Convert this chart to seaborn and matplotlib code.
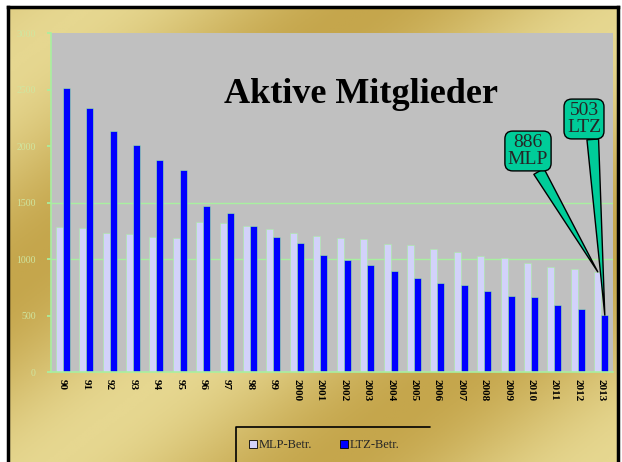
import numpy as np
import pandas as pd
import matplotlib
matplotlib.use("Agg")
import matplotlib.pyplot as plt
from matplotlib.lines import Line2D
from matplotlib.colors import LinearSegmentedColormap
import seaborn as sns

years = ["90", "91", "92", "93", "94", "95", "96", "97", "98", "99",
         "2000", "2001", "2002", "2003", "2004", "2005", "2006", "2007",
         "2008", "2009", "2010", "2011", "2012", "2013"]
mlp = [1286, 1277, 1227, 1218, 1192, 1183, 1325, 1321, 1290, 1265,
       1227, 1203, 1189, 1174, 1130, 1121, 1086, 1059, 1027, 1006,
       968, 933, 912, 886]
ltz = [2511, 2333, 2136, 2009, 1876, 1788, 1472, 1407, 1290, 1198,
       1139, 1032, 988, 947, 894, 835, 790, 770, 720, 676,
       667, 590, 555, 503]
series_names = ["MLP-Betr.", "LTZ-Betr."]
yticks = [0, 500, 1000, 1500, 2000, 2500, 3000]
title = "Aktive Mitglieder"
callout_mlp = "886\nMLP"
callout_ltz = "503\nLTZ"

df = pd.DataFrame({
    "year": years * 2,
    "series": [series_names[0]] * len(years) + [series_names[1]] * len(years),
    "value": mlp + ltz,
})

sns.set_theme(style="white")
plt.rcParams["font.family"] = ["Liberation Serif", "DejaVu Serif"]

W, H = 622, 462
fig = plt.figure(figsize=(W / 100, H / 100), dpi=100, facecolor="white")

# golden gradient background inside black frame
bx0, bx1, by0 = 8, 618, 7
bg = fig.add_axes([bx0 / W, 0, (bx1 - bx0) / W, 1 - by0 / H])
xx, yy = np.meshgrid(np.linspace(bx0, bx1, 300), np.linspace(by0, H, 230))
t = 0.5 + 0.5 * np.cos(2 * np.pi * (xx + 1.3 * yy - 375) / 560)
cmap = LinearSegmentedColormap.from_list("gold", ["#e6d790", "#c5a64c"])
bg.imshow(t, cmap=cmap, aspect="auto", extent=[0, 1, 0, 1], origin="upper")
bg.set_xticks([]); bg.set_yticks([])
for s in ["left", "top", "right"]:
    bg.spines[s].set_color("black"); bg.spines[s].set_linewidth(2.5)
bg.spines["bottom"].set_visible(False)

# main plot area
px0, px1, py0, py1 = 51, 613, 33, 372
ax = fig.add_axes([px0 / W, 1 - py1 / H, (px1 - px0) / W, (py1 - py0) / H])
ax.set_facecolor("#c0c0c0")
for lvl in [1000, 1500]:
    ax.axhline(lvl, color="#a8f0a0", lw=1, zorder=0.5)

sns.barplot(data=df, x="year", y="value", hue="series", hue_order=series_names,
            palette={series_names[0]: "#d2d2fa", series_names[1]: "#0000ff"},
            width=0.6, saturation=1, edgecolor="#a8f0a0", linewidth=0.4,
            legend=False, ax=ax, zorder=2)

ax.set_xlim(-0.5, len(years) - 0.5)
ax.set_ylim(0, 3000)
ax.set_yticks(yticks)
ax.set_yticklabels([str(v) for v in yticks], fontsize=7, color="#cfe6a0")
ax.set_xlabel(""); ax.set_ylabel("")
ax.set_xticks(range(len(years)))
ax.set_xticklabels(years, rotation=-90, fontsize=8, fontweight="bold",
                   color="black", va="top", ha="center")
ax.set_xticks(np.arange(-0.5, len(years), 1), minor=True)
ax.tick_params(axis="x", which="major", length=0, pad=5)
ax.tick_params(axis="x", which="minor", length=2, color="#70c070", width=0.8)
ax.tick_params(axis="y", which="major", length=3, color="#a8f0a0", pad=8, left=True)
for s in ["top", "right"]:
    ax.spines[s].set_visible(False)
for s in ["left", "bottom"]:
    ax.spines[s].set_color("#a8f0a0"); ax.spines[s].set_linewidth(1.2)

# title
fig.text(361 / W, 1 - 102.7 / H, title, fontsize=26, fontweight="bold",
         ha="center", va="baseline", color="black")

# callouts
box = dict(boxstyle="round,pad=0.15,rounding_size=0.4", fc="#00cc99", ec="black", lw=1)
last = len(years) - 1
ax.annotate(callout_mlp, xy=(last - 0.15, mlp[-1]), xycoords="data",
            xytext=(528, H - 151), textcoords="figure pixels",
            ha="center", va="center", fontsize=14, linespacing=1.0, bbox=box,
            arrowprops=dict(arrowstyle="wedge,tail_width=0.6", fc="#00cc99",
                            ec="black", lw=1, relpos=(0.72, 0.0), shrinkA=0, shrinkB=0),
            zorder=5, annotation_clip=False)
ax.annotate(callout_ltz, xy=(last + 0.15, ltz[-1]), xycoords="data",
            xytext=(584, H - 119), textcoords="figure pixels",
            ha="center", va="center", fontsize=14, linespacing=1.0, bbox=box,
            arrowprops=dict(arrowstyle="wedge,tail_width=0.6", fc="#00cc99",
                            ec="black", lw=1, relpos=(0.75, 0.0), shrinkA=0, shrinkB=0),
            zorder=5, annotation_clip=False)

# legend frame (top and left edges visible)
lx0, lx1, ly0 = 236 / W, 430 / W, 1 - 427 / H
fig.lines.append(Line2D([lx0, lx0, lx1], [0, ly0, ly0], transform=fig.transFigure,
                        color="black", lw=1.2))
handles = [Line2D([], [], marker="s", ls="", markersize=6, markerfacecolor=c,
                  markeredgecolor="black", markeredgewidth=0.6)
           for c in ["#d2d2fa", "#0000ff"]]
fig.legend(handles, series_names, loc="center left",
           bbox_to_anchor=(249 / W, 1 - 445 / H), ncol=2, frameon=False,
           fontsize=9, handlelength=0.6, handletextpad=0.2, columnspacing=2.2,
           borderpad=0, borderaxespad=0)

fig.savefig("out.png", dpi=100, facecolor="white")
